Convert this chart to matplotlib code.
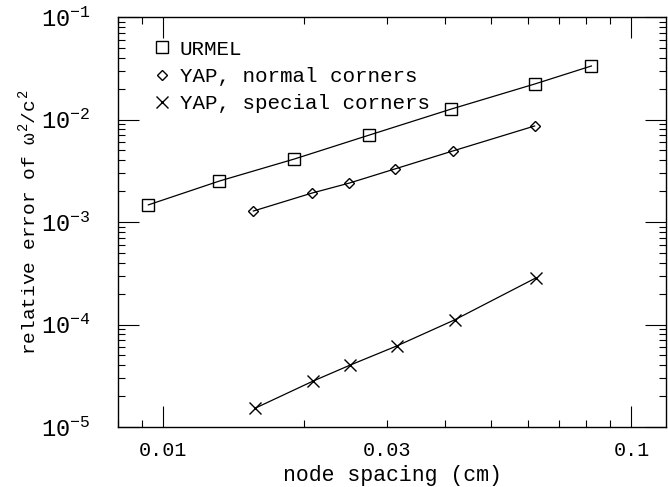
import numpy as np
import matplotlib
matplotlib.use("Agg")
import matplotlib.pyplot as plt
from matplotlib.ticker import LogLocator, FixedLocator, NullFormatter

plt.rcParams['font.family'] = ['Liberation Mono', 'DejaVu Sans Mono']
plt.rcParams['mathtext.fontset'] = 'custom'
plt.rcParams['mathtext.rm'] = 'Liberation Mono'
plt.rcParams['mathtext.it'] = 'Liberation Mono'

# data
urmel_h = [0.00929, 0.01317, 0.01905, 0.02755, 0.0412, 0.0621, 0.0821]
urmel_err = [1.47e-3, 2.51e-3, 4.12e-3, 7.06e-3, 1.265e-2, 2.22e-2, 3.33e-2]

normal_h = [0.01557, 0.0208, 0.02497, 0.0312, 0.0415, 0.0621]
normal_err = [1.28e-3, 1.92e-3, 2.40e-3, 3.29e-3, 4.93e-3, 8.65e-3]

special_h = [0.01573, 0.0209, 0.0251, 0.0315, 0.0419, 0.0624]
special_err = [1.53e-5, 2.81e-5, 4.03e-5, 6.17e-5, 1.11e-4, 2.84e-4]

xtick_vals = [0.01, 0.03, 0.1]
xtick_labels = ["0.01", "0.03", "0.1"]

fig = plt.figure(figsize=(6.68, 4.87), dpi=100)
ax = fig.add_axes([0.1766, 0.1232, 0.8204, 0.8418])

ax.plot(urmel_h, urmel_err, color="black", lw=0.9, marker="s", ms=8,
        mfc="none", mec="black", mew=1.0, label="URMEL")
ax.plot(normal_h, normal_err, color="black", lw=0.9, marker="D", ms=5.5,
        mfc="none", mec="black", mew=1.0, label="YAP, normal corners")
ax.plot(special_h, special_err, color="black", lw=0.9, marker="x", ms=8,
        mec="black", mew=1.0, label="YAP, special corners")

ax.set_xscale("log")
ax.set_yscale("log")
ax.set_xlim(0.008, 0.1185)
ax.set_ylim(1e-5, 1e-1)

ax.xaxis.set_major_locator(FixedLocator([0.01, 0.1]))
ax.xaxis.set_minor_locator(LogLocator(base=10, subs=np.arange(2, 10)))
ax.xaxis.set_major_formatter(NullFormatter())
ax.xaxis.set_minor_formatter(NullFormatter())
for v, lab in zip(xtick_vals, xtick_labels):
    ax.text(v, -0.033, lab, transform=ax.get_xaxis_transform(),
            ha="center", va="top", fontsize=14.5)

ax.yaxis.set_minor_locator(LogLocator(base=10, subs=np.arange(2, 10), numticks=10))
ax.set_yticks([1e-5, 1e-4, 1e-3, 1e-2, 1e-1])
ax.set_yticklabels([r"$10^{-5}$", r"$10^{-4}$", r"$10^{-3}$", r"$10^{-2}$", r"$10^{-1}$"])

ax.tick_params(which="both", direction="in", top=True, right=True, width=0.8)
ax.tick_params(which="major", length=15)
ax.tick_params(which="minor", length=5)
ax.tick_params(axis="y", which="major", labelsize=17, pad=20)
for s in ax.spines.values():
    s.set_linewidth(1.0)

ax.set_xlabel("node spacing (cm)", fontsize=15.5, labelpad=24)
ax.set_ylabel(r"relative error of $\omega^2$/$c^2$", fontsize=14, labelpad=1)

leg = ax.legend(loc="upper left", frameon=False, fontsize=15, handlelength=0.8,
                handletextpad=0.45, labelspacing=0.4, borderaxespad=0.0,
                bbox_to_anchor=(0.05, 0.965))
for h in leg.legend_handles:
    h.set_linestyle("none")

fig.savefig("out.png", dpi=100)
